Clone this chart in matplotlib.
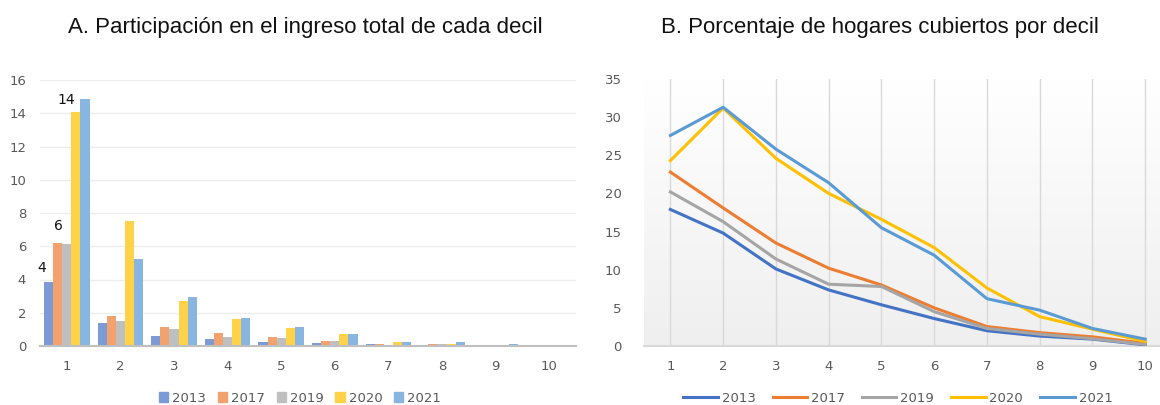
import numpy as np
import matplotlib
matplotlib.use("Agg")
import matplotlib.pyplot as plt
from matplotlib.patches import Patch
from matplotlib.lines import Line2D

deciles = list(range(1, 11))
years = ["2013", "2017", "2019", "2020", "2021"]

# A. participación en el ingreso total
share_2013 = [3.87, 1.36, 0.62, 0.40, 0.23, 0.16, 0.10, 0.02, 0.01, 0.01]
share_2017 = [6.18, 1.80, 1.16, 0.76, 0.55, 0.30, 0.10, 0.12, 0.01, 0.02]
share_2019 = [6.12, 1.50, 1.00, 0.56, 0.47, 0.30, 0.08, 0.10, 0.02, 0.02]
share_2020 = [14.09, 7.52, 2.72, 1.60, 1.08, 0.70, 0.24, 0.12, 0.01, 0.02]
share_2021 = [14.84, 5.21, 2.95, 1.68, 1.16, 0.70, 0.24, 0.24, 0.10, 0.04]

# B. porcentaje de hogares cubiertos
cov_2013 = [17.9, 14.8, 10.1, 7.35, 5.4, 3.6, 2.0, 1.3, 0.9, 0.15]
cov_2017 = [22.8, 18.1, 13.5, 10.2, 8.0, 5.0, 2.55, 1.75, 1.2, 0.35]
cov_2019 = [20.2, 16.3, 11.4, 8.1, 7.8, 4.5, 2.3, 1.55, 0.95, 0.2]
cov_2020 = [24.3, 31.2, 24.6, 20.0, 16.6, 12.9, 7.6, 3.85, 2.2, 0.6]
cov_2021 = [27.6, 31.3, 25.8, 21.4, 15.5, 11.9, 6.2, 4.7, 2.3, 0.9]

bar_colors = ["#7C9BD6", "#F2A26E", "#BFBFBF", "#FFD247", "#88B6E0"]
line_colors = ["#4472C4", "#ED7D31", "#A5A5A5", "#FFC000", "#5B9BD5"]
tick_color = "#595959"

plt.rcParams["font.family"] = ["DejaVu Sans"]

fig = plt.figure(figsize=(11.6, 4.05), dpi=100)
W, H = 1160, 405

def px_axes(x0, y0, x1, y1):
    return fig.add_axes([x0 / W, 1 - y1 / H, (x1 - x0) / W, (y1 - y0) / H])

title_font = dict(family=["Liberation Sans Narrow", "Liberation Sans", "DejaVu Sans"], fontsize=16, color="#111111")

# ---- panel A ----
ax1 = px_axes(40, 80, 576, 346)
shares = [share_2013, share_2017, share_2019, share_2020, share_2021]
x = np.array(deciles)
bw = 0.17
for i, (vals, c) in enumerate(zip(shares, bar_colors)):
    ax1.bar(x + (i - 2) * bw, vals, width=bw, color=c, zorder=2)
ax1.set_xlim(0.5, 10.5)
ax1.set_ylim(0, 16)
ax1.set_yticks(range(0, 17, 2))
ax1.set_xticks(deciles)
ax1.grid(axis="y", color="#EDEDED", lw=1, zorder=0)
for s in ["top", "right", "left"]:
    ax1.spines[s].set_visible(False)
ax1.spines["bottom"].set_color("#BFBFBF")
ax1.spines["bottom"].set_linewidth(1.5)
ax1.tick_params(length=0, labelsize=9.5, colors=tick_color, pad=10)
# data labels (pixel offsets from the bar top)
for vals, i, lab, dx, dy in [(share_2013, 0, "4", -7, 14), (share_2017, 1, "6", 1, 17),
                             (share_2020, 3, "14", -10, 12)]:
    ax1.annotate(lab, (1 + (i - 2) * bw, vals[0]), xytext=(dx * 0.72, dy * 0.72),
                 textcoords="offset points", ha="center", va="center", fontsize=10, color="#111111")
fig.text(305 / W, 1 - 27 / H, "A. Participación en el ingreso total de cada decil", ha="center", va="center", **title_font)
h1 = [Patch(color=c) for c in bar_colors]
fig.legend(h1, years, loc="center", bbox_to_anchor=(300 / W, 1 - 398 / H), ncol=5, frameon=False,
           fontsize=9.5, labelcolor=tick_color, handlelength=0.7, handleheight=0.7, handletextpad=0.3,
           columnspacing=0.9)

# ---- panel B ----
ax2 = px_axes(644, 79, 1160, 346)
grad = np.linspace(0, 1, 256).reshape(-1, 1)
ax2.imshow(grad, extent=[0.5, 10.28, 0, 35], aspect="auto", origin="upper",
           cmap=matplotlib.colors.LinearSegmentedColormap.from_list("g", ["#FFFFFF", "#EFEFEF"]), zorder=0)
covs = [cov_2013, cov_2017, cov_2019, cov_2020, cov_2021]
for vals, c in zip(covs, line_colors):
    ax2.plot(deciles, vals, color=c, lw=2.2, zorder=3)
ax2.set_xlim(0.5, 10.28)
ax2.set_ylim(0, 35)
ax2.set_yticks(range(0, 36, 5))
ax2.set_xticks(deciles)
ax2.grid(axis="x", color="#D9D9D9", lw=1, zorder=1)
for s in ["top", "right", "left"]:
    ax2.spines[s].set_visible(False)
ax2.spines["bottom"].set_color("#D9D9D9")
ax2.spines["bottom"].set_linewidth(1.5)
ax2.tick_params(length=0, labelsize=9.5, colors=tick_color, pad=10)
ax2.tick_params(axis="y", pad=16)
fig.text(880 / W, 1 - 27 / H, "B. Porcentaje de hogares cubiertos por decil", ha="center", va="center", **title_font)
h2 = [Line2D([], [], color=c, lw=2.2) for c in line_colors]
fig.legend(h2, years, loc="center", bbox_to_anchor=(898 / W, 1 - 398 / H), ncol=5, frameon=False,
           fontsize=9.5, labelcolor=tick_color, handlelength=2.6, handletextpad=0.3, columnspacing=1.3)

fig.savefig("out.png", dpi=100)
